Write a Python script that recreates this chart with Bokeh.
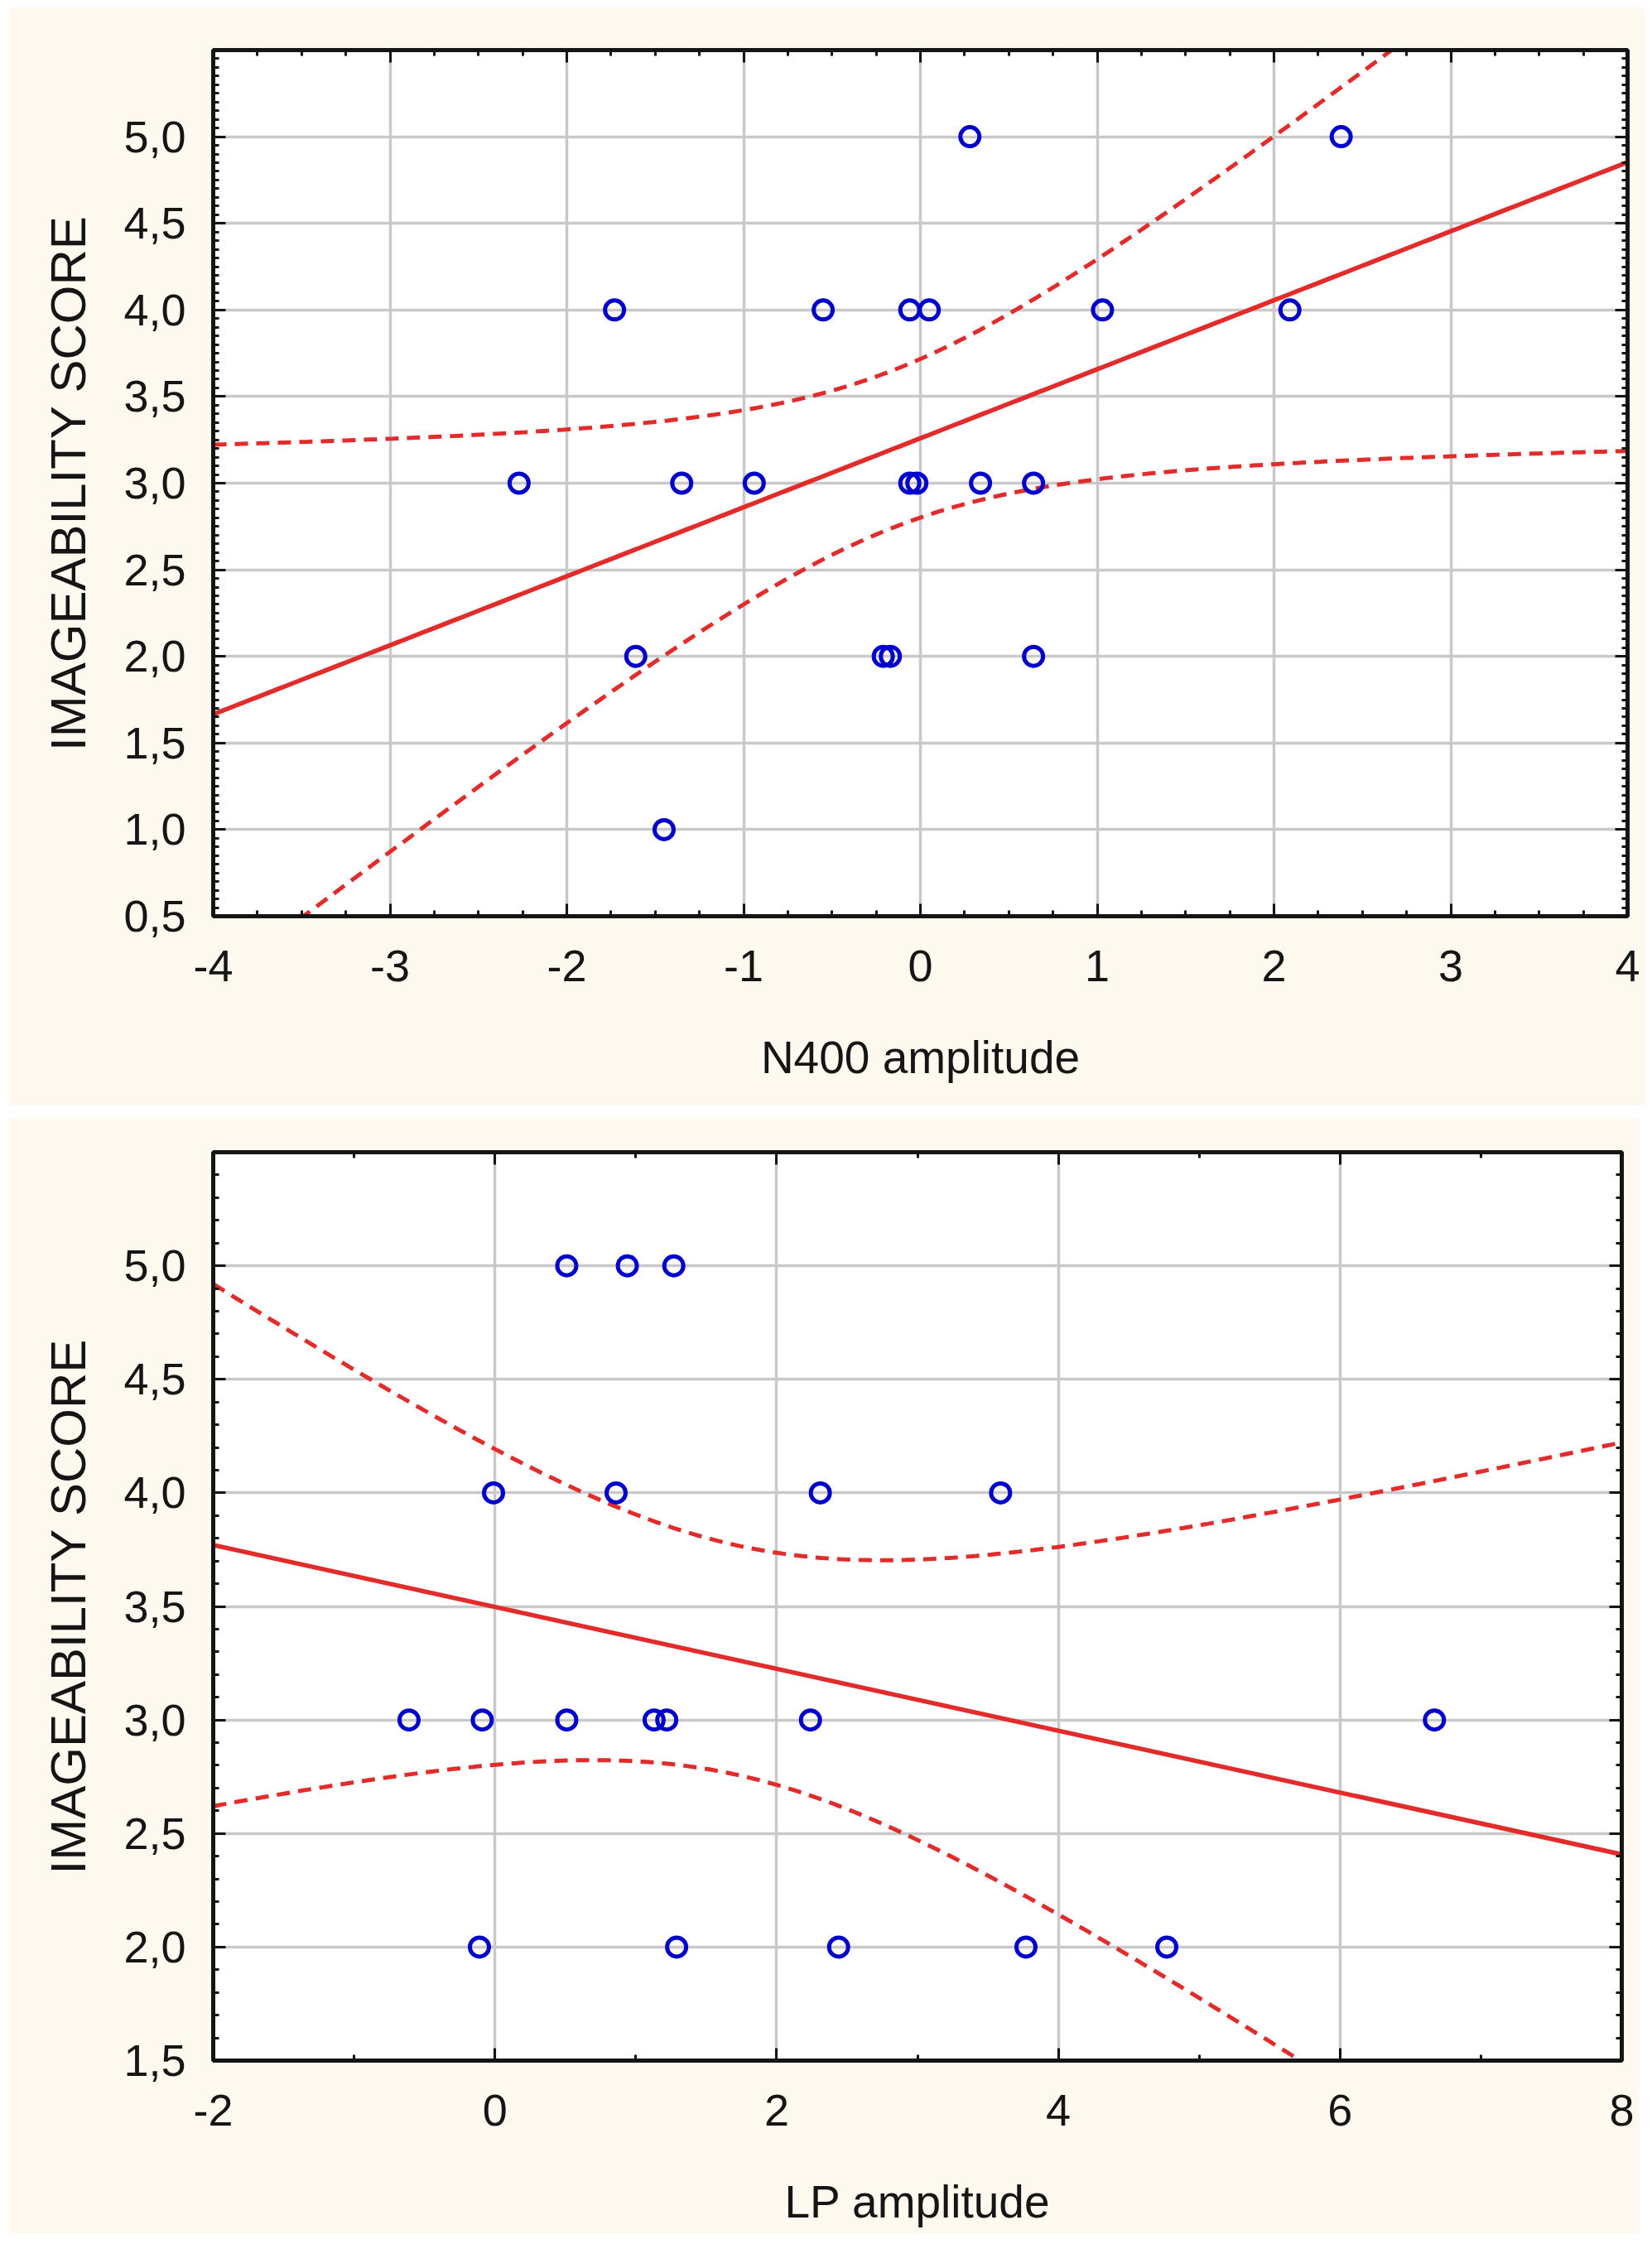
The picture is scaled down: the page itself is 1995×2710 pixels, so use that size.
import numpy as np
from bokeh.plotting import figure
from bokeh.models import LinearAxis, FixedTicker, Range1d, CustomJSTickFormatter
from bokeh.layouts import column
from bokeh.embed import file_html
from bokeh.resources import INLINE

# ---------------- data: top panel (N400) ----------------
n400_x = [0.28, 2.38,
          -1.73, -0.55, -0.06, 0.05, 1.03, 2.09,
          -2.27, -1.35, -0.94, -0.06, -0.02, 0.34, 0.64,
          -1.61, -0.21, -0.17, 0.64,
          -1.45]
n400_y = [5, 5,
          4, 4, 4, 4, 4, 4,
          3, 3, 3, 3, 3, 3, 3,
          2, 2, 2, 2,
          1]

# ---------------- data: bottom panel (LP) ----------------
lp_x = [0.51, 0.94, 1.27,
        -0.01, 0.86, 2.31, 3.59,
        -0.61, -0.09, 0.51, 1.13, 1.22, 2.24, 6.67,
        -0.11, 1.29, 2.44, 3.77, 4.77]
lp_y = [5, 5, 5,
        4, 4, 4, 4,
        3, 3, 3, 3, 3, 3, 3,
        2, 2, 2, 2, 2]

top_xticks = [-4, -3, -2, -1, 0, 1, 2, 3, 4]
top_xlabels = ["-4", "-3", "-2", "-1", "0", "1", "2", "3", "4"]
top_yticks = [0.5, 1.0, 1.5, 2.0, 2.5, 3.0, 3.5, 4.0, 4.5, 5.0]
top_ylabels = ["0,5", "1,0", "1,5", "2,0", "2,5", "3,0", "3,5", "4,0", "4,5", "5,0"]

bot_xticks = [-2, 0, 2, 4, 6, 8]
bot_xlabels = ["-2", "0", "2", "4", "6", "8"]
bot_yticks = [1.5, 2.0, 2.5, 3.0, 3.5, 4.0, 4.5, 5.0]
bot_ylabels = ["1,5", "2,0", "2,5", "3,0", "3,5", "4,0", "4,5", "5,0"]

y_title = "IMAGEABILITY SCORE"
top_x_title = "N400 amplitude"
bot_x_title = "LP amplitude"

# two-sided 95% Student t critical values by degrees of freedom
T_CRIT = {17: 2.109816, 18: 2.100922}

CREAM = "#fdf9ef"
RED = "#e22b2b"
BLUE = "#0000cc"
GRID = "#c9c9c9"
INK = "#151515"
FONT = "Liberation Sans"


def fit_band(x, y, x0, x1):
    x = np.asarray(x, float)
    y = np.asarray(y, float)
    n = len(x)
    b, a = np.polyfit(x, y, 1)
    resid = y - (a + b * x)
    s = np.sqrt((resid ** 2).sum() / (n - 2))
    sxx = ((x - x.mean()) ** 2).sum()
    xs = np.linspace(x0, x1, 300)
    yh = a + b * xs
    hw = T_CRIT[n - 2] * s * np.sqrt(1.0 / n + (xs - x.mean()) ** 2 / sxx)
    return xs, yh, yh - hw, yh + hw


def style_axis(ax):
    ax.axis_line_color = INK
    ax.axis_line_width = 5
    ax.major_tick_in = 15
    ax.major_tick_out = 0
    ax.minor_tick_in = 7
    ax.minor_tick_out = 0
    ax.major_tick_line_width = 3
    ax.minor_tick_line_width = 3
    ax.major_tick_line_color = INK
    ax.minor_tick_line_color = INK
    ax.major_label_text_font = FONT
    ax.major_label_text_color = INK
    ax.axis_label_text_font = FONT
    ax.axis_label_text_font_style = "normal"
    ax.axis_label_text_color = INK


def make_panel(xs_data, ys_data, xr, yr, xticks, xlabels, xminor, yticks, ylabels, yminor,
               xtitle, width, height, borders):
    bl, br, bt, bb = borders
    p = figure(width=width, height=height, x_range=Range1d(*xr), y_range=Range1d(*yr),
               output_backend="svg", toolbar_location=None, tools="",
               min_border_left=bl, min_border_right=br, min_border_top=bt, min_border_bottom=bb)
    p.background_fill_color = "white"
    p.border_fill_color = CREAM
    p.outline_line_color = INK
    p.outline_line_width = 5

    xt = FixedTicker(ticks=xticks, minor_ticks=xminor)
    yt = FixedTicker(ticks=yticks, minor_ticks=yminor)

    p.xaxis.ticker = xt
    p.yaxis.ticker = yt
    p.xaxis.major_label_overrides = {float(t): l for t, l in zip(xticks, xlabels)}
    p.yaxis.major_label_overrides = {float(t): l for t, l in zip(yticks, ylabels)}
    p.xaxis.axis_label = xtitle
    p.yaxis.axis_label = y_title
    for ax in p.xaxis:
        style_axis(ax)
        ax.major_label_text_font_size = "54px"
        ax.major_label_standoff = 41
        ax.axis_label_text_font_size = "55px"
        ax.axis_label_standoff = 58
    for ax in p.yaxis:
        style_axis(ax)
        ax.major_label_text_font_size = "54px"
        ax.major_label_standoff = 33
        ax.axis_label_text_font_size = "60px"
        ax.axis_label_standoff = 30

    blank = CustomJSTickFormatter(code="return '';")
    top_ax = LinearAxis(ticker=xt, formatter=blank, major_label_standoff=0)
    style_axis(top_ax)
    p.add_layout(top_ax, "above")
    right_ax = LinearAxis(ticker=yt, formatter=blank, major_label_standoff=0)
    style_axis(right_ax)
    p.add_layout(right_ax, "right")

    p.xgrid.ticker = xt
    p.ygrid.ticker = yt
    p.grid.grid_line_color = GRID
    p.grid.grid_line_width = 3.5

    fx, fy, lo, hi = fit_band(xs_data, ys_data, xr[0], xr[1])
    p.line(fx, lo, line_color=RED, line_width=5, line_dash="16 10")
    p.line(fx, hi, line_color=RED, line_width=5, line_dash="16 10")
    p.line(fx, fy, line_color=RED, line_width=5.5)

    p.scatter(xs_data, ys_data, marker="circle", size=23, fill_color=None,
              line_color=BLUE, line_width=5)
    return p


# top panel: frame x 257..1973, y 60..1106 (page coords); figure origin (10, 8)
p1 = make_panel(n400_x, n400_y, (-4, 4), (0.5, 5.5),
                top_xticks, top_xlabels, list(np.arange(-4, 4.01, 0.25)),
                top_yticks, top_ylabels, list(np.round(np.arange(0.5, 5.501, 0.05), 2)),
                top_x_title, 1977, 1327, (247, 14, 52, 229))
p1.margin = (8, 0, 0, 10)

# bottom panel: frame x 257..1958, y 1391..2488; figure origin (10, 1350)
p2 = make_panel(lp_x, lp_y, (-2, 8), (1.5, 5.5),
                bot_xticks, bot_xlabels, list(np.arange(-2, 8.01, 1.0)),
                bot_yticks, bot_ylabels, list(np.round(np.arange(1.5, 5.501, 0.1), 2)),
                bot_x_title, 1970, 1347, (247, 22, 41, 209))
p2.margin = (0, 0, 0, 10)

layout = column(p1, p2, spacing=15)
open("out.html", "w").write(file_html(layout, INLINE))
